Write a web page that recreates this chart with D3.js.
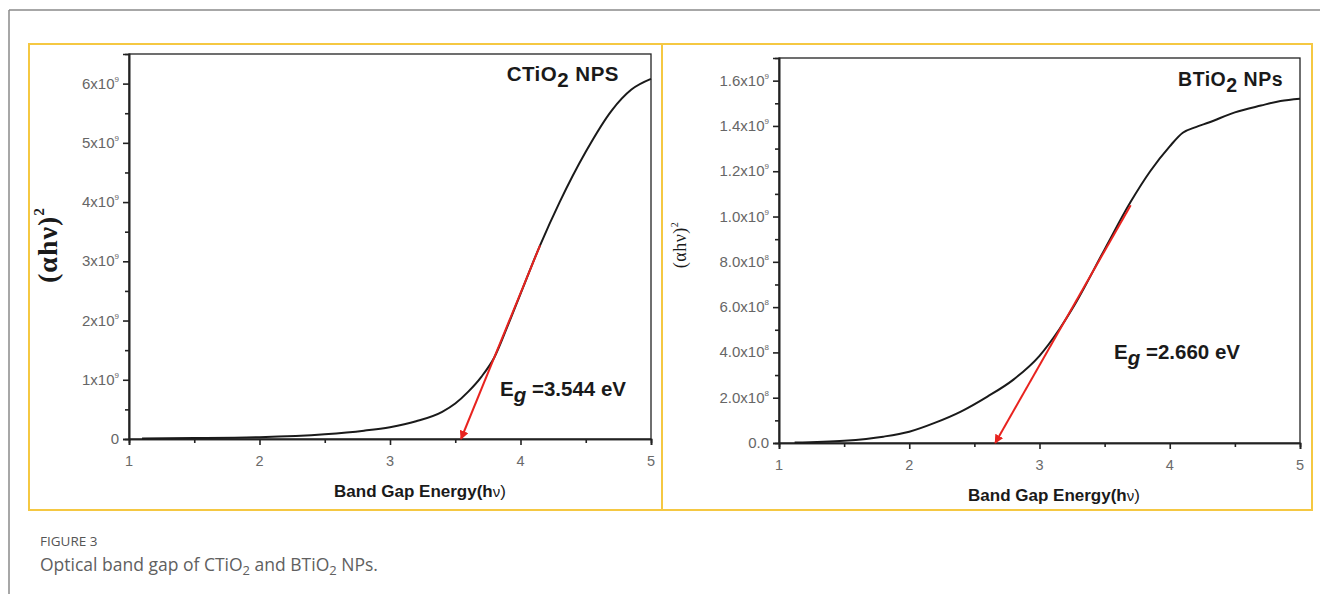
<!DOCTYPE html>
<html><head><meta charset="utf-8">
<script src="https://cdn.jsdelivr.net/npm/d3@7"></script>
<style>body{margin:0;background:#fff}svg{display:block}</style>
</head><body>
<svg id="c" width="1320" height="594"></svg>
<script>
// ---- data ----
const xTicks = [1, 2, 3, 4, 5];
const xMinor = [1.5, 2.5, 3.5, 4.5];

const cEnergy = [1.1, 1.5, 2.0, 2.5, 2.8, 3.0, 3.2, 3.4, 3.5, 3.6, 3.7, 3.8, 3.9, 4.0, 4.15, 4.3, 4.5, 4.7, 4.85, 5.0];
const cValue  = [0.01e9, 0.015e9, 0.03e9, 0.08e9, 0.14e9, 0.2e9, 0.3e9, 0.46e9, 0.6e9, 0.8e9, 1.05e9, 1.38e9, 1.9e9, 2.45e9, 3.27e9, 4.0e9, 4.85e9, 5.55e9, 5.9e9, 6.08e9];
const cYTicks = [0, 1e9, 2e9, 3e9, 4e9, 5e9, 6e9];
const cYLabels = [["0",""],["1x10","9"],["2x10","9"],["3x10","9"],["4x10","9"],["5x10","9"],["6x10","9"]];
const cYMinor = [0.5e9, 1.5e9, 2.5e9, 3.5e9, 4.5e9, 5.5e9];
const cFit = [[3.544, 0], [4.15, 3.27e9]];

const bEnergy = [1.12, 1.5, 1.8, 2.0, 2.2, 2.4, 2.6, 2.8, 3.0, 3.15, 3.27, 3.5, 3.7, 3.85, 4.0, 4.1, 4.2, 4.3, 4.5, 4.7, 4.85, 5.0];
const bValue  = [0.002e9, 0.01e9, 0.028e9, 0.05e9, 0.09e9, 0.14e9, 0.205e9, 0.28e9, 0.385e9, 0.5e9, 0.61e9, 0.855e9, 1.065e9, 1.2e9, 1.31e9, 1.37e9, 1.395e9, 1.415e9, 1.46e9, 1.49e9, 1.51e9, 1.52e9];
const bYTicks = [0, 0.2e9, 0.4e9, 0.6e9, 0.8e9, 1.0e9, 1.2e9, 1.4e9, 1.6e9];
const bYLabels = [["0.0",""],["2.0x10","8"],["4.0x10","8"],["6.0x10","8"],["8.0x10","8"],["1.0x10","9"],["1.2x10","9"],["1.4x10","9"],["1.6x10","9"]];
const bYMinor = [0.1e9, 0.3e9, 0.5e9, 0.7e9, 0.9e9, 1.1e9, 1.3e9, 1.5e9];
const bFit = [[2.66, 0], [3.7, 1.05e9]];

const svg = d3.select("#c");

svg.append("line").attr("x1",9).attr("x2",1320).attr("y1",10).attr("y2",10).attr("stroke","#8a8a8a").attr("stroke-width",1.5);
svg.append("line").attr("x1",9).attr("x2",9).attr("y1",10).attr("y2",594).attr("stroke","#8a8a8a").attr("stroke-width",1.5);
svg.append("rect").attr("x",29).attr("y",44).attr("width",1283).attr("height",466).attr("fill","none").attr("stroke","#f5c842").attr("stroke-width",2);
svg.append("line").attr("x1",662).attr("x2",662).attr("y1",44).attr("y2",510).attr("stroke","#f5c842").attr("stroke-width",2);

const defs = svg.append("defs");
defs.append("marker").attr("id","arr").attr("viewBox","0 0 10 10").attr("refX",9).attr("refY",5)
  .attr("markerWidth",4.5).attr("markerHeight",4.5).attr("orient","auto")
  .append("path").attr("d","M0,0 L10,5 L0,10 z").attr("fill","#e8231f");

function panel(o){
  const g = svg.append("g");
  const x = d3.scaleLinear().domain([1,5]).range([o.left, o.right]);
  const y = d3.scaleLinear().domain([0, o.ymax]).range([o.bottom, o.top]);
  const ax = "#222";
  g.append("rect").attr("x",o.left).attr("y",o.top).attr("width",o.right-o.left).attr("height",o.bottom-o.top)
    .attr("fill","none").attr("stroke",ax).attr("stroke-width",1.3);
  const xa = g.append("g").attr("transform",`translate(0,${o.bottom})`)
    .call(d3.axisBottom(x).tickValues(xTicks).tickSize(6).tickFormat(""));
  const xm = g.append("g").attr("transform",`translate(0,${o.bottom})`)
    .call(d3.axisBottom(x).tickValues(xMinor).tickSize(4).tickFormat(""));
  const ya = g.append("g").attr("transform",`translate(${o.left},0)`)
    .call(d3.axisLeft(y).tickValues(o.yTicks).tickSize(6).tickFormat(""));
  const ym = g.append("g").attr("transform",`translate(${o.left},0)`)
    .call(d3.axisLeft(y).tickValues(o.yMinor).tickSize(4).tickFormat(""));
  [xa,xm,ya,ym].forEach(a=>{a.select(".domain").attr("stroke",ax).attr("stroke-width",1.6);
    a.selectAll(".tick line").attr("stroke",ax).attr("stroke-width",1.6);});
  g.selectAll(".xl").data(xTicks).enter().append("text")
    .attr("x",d=>x(d)).attr("y",o.bottom+27).attr("text-anchor","middle")
    .attr("font-family","Liberation Sans, Arial, sans-serif").attr("font-size",14.5).attr("fill","#6a6a6a")
    .text(d=>d);
  const yl = g.selectAll(".yl").data(o.yTicks).enter().append("text")
    .attr("x",o.left-10).attr("y",d=>y(d)+5).attr("text-anchor","end")
    .attr("font-family","Liberation Sans, Arial, sans-serif").attr("font-size",15).attr("fill","#666");
  yl.each(function(d,i){
    const t = d3.select(this); const lab = o.yLabels[i];
    t.append("tspan").text(lab[0]);
    if(lab[1]) t.append("tspan").attr("dy",-7).attr("font-size",8).text(lab[1]);
  });
  const pts = o.xs.map((v,i)=>[v,o.ys[i]]);
  g.append("path").datum(pts).attr("fill","none").attr("stroke","#1a1a1a").attr("stroke-width",2)
    .attr("d",d3.line().x(d=>x(d[0])).y(d=>y(d[1])).curve(d3.curveMonotoneX));
  const f = [o.fit[1], o.fit[0]];
  g.append("path").datum(f).attr("fill","none").attr("stroke","#e8231f").attr("stroke-width",2)
    .attr("marker-end","url(#arr)")
    .attr("d",d3.line().x(d=>x(d[0])).y(d=>y(d[1])));
  const xt = g.append("text").attr("x",o.xtX).attr("y",o.bottom+58).attr("text-anchor","middle")
    .attr("font-family","Liberation Sans, Arial, sans-serif").attr("font-size",17).attr("font-weight","bold").attr("fill","#1a1a1a");
  xt.append("tspan").text("Band Gap Energy(h");
  xt.append("tspan").attr("font-weight","normal").attr("font-size",15).text("ν");
  xt.append("tspan").attr("font-weight","normal").text(")");
  const yt = g.append("text").attr("transform",`translate(${o.ytX},${o.ytY}) rotate(-90)`).attr("text-anchor","middle")
    .attr("font-family","Liberation Serif, Times New Roman, serif").attr("font-size",o.ytSize).attr("font-weight",o.ytWeight)
    .attr("letter-spacing",o.ytLS).attr("fill","#1a1a1a");
  yt.append("tspan").text("(αhν)");
  yt.append("tspan").attr("dy",-o.ytSize*0.45).attr("font-size",o.ytSize*0.55).text("2");
  const pt = g.append("text").attr("x",o.ptX).attr("y",o.ptY).attr("text-anchor","end")
    .attr("font-family","Liberation Sans, Arial, sans-serif").attr("font-size",o.ptSize).attr("font-weight","bold")
    .attr("letter-spacing",0.5).attr("fill","#1a1a1a");
  pt.append("tspan").text(o.title[0]);
  pt.append("tspan").attr("dy",6).text("2");
  pt.append("tspan").attr("dy",-6).text(o.title[1]);
  const eg = g.append("text").attr("x",o.egX).attr("y",o.egY)
    .attr("font-family","Liberation Sans, Arial, sans-serif").attr("font-size",20.5).attr("font-weight","bold").attr("fill","#1a1a1a");
  eg.append("tspan").text("E");
  eg.append("tspan").attr("dy",6).attr("font-style","italic").text("g");
  eg.append("tspan").attr("dy",-6).text(" =" + o.eg + " eV");
}

panel({left:129, right:651, top:54, bottom:439, ymax:6.5e9,
  yTicks:cYTicks, yLabels:cYLabels, yMinor:cYMinor, xs:cEnergy, ys:cValue, fit:cFit,
  xtX:420, ytX:57, ytY:245, ytSize:28, ytWeight:"bold", ytLS:1,
  ptX:619, ptY:81, ptSize:20.5, title:["CTiO"," NPS"], egX:500, egY:396, eg:"3.544"});

panel({left:779, right:1300, top:58, bottom:443, ymax:1.7e9,
  yTicks:bYTicks, yLabels:bYLabels, yMinor:bYMinor, xs:bEnergy, ys:bValue, fit:bFit,
  xtX:1054, ytX:686, ytY:245, ytSize:18, ytWeight:"normal", ytLS:0.5,
  ptX:1283, ptY:86, ptSize:19.5, title:["BTiO"," NPs"], egX:1114, egY:359, eg:"2.660"});

svg.append("text").attr("x",40).attr("y",546).attr("font-family","Open Sans, sans-serif").attr("font-size",13.5)
  .attr("fill","#555").text("FIGURE 3");
const cap = svg.append("text").attr("x",40).attr("y",571).attr("font-family","Open Sans, sans-serif").attr("font-size",17.5).attr("fill","#606060");
cap.append("tspan").text("Optical band gap of CTiO");
cap.append("tspan").attr("dy",4).attr("font-size",13).text("2");
cap.append("tspan").attr("dy",-4).text(" and BTiO");
cap.append("tspan").attr("dy",4).attr("font-size",13).text("2");
cap.append("tspan").attr("dy",-4).text(" NPs.");
</script>
</body></html>
